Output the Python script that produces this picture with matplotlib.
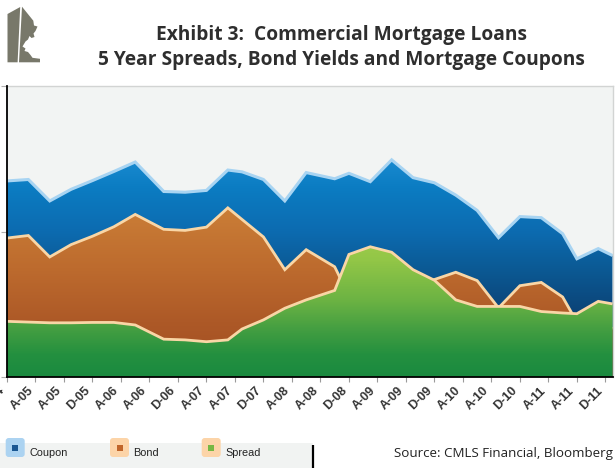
import numpy as np
import matplotlib
matplotlib.use("Agg")
import matplotlib.pyplot as plt
from matplotlib.colors import LinearSegmentedColormap
from matplotlib.patches import Polygon, FancyBboxPatch, Rectangle

# Months elapsed since Dec-2004 for each observation
months = [0, 3, 6, 9, 12, 15, 18, 22, 25, 28, 31, 33, 36, 39, 42, 46, 48,
          51, 54, 57, 60, 63, 66, 69, 72, 75, 78, 80, 83, 85]

# 5-year commercial mortgage coupon (%)
coupon = [5.39, 5.43, 4.84, 5.16, 5.40, 5.65, 5.91, 5.10, 5.08, 5.13, 5.69,
          5.64, 5.43, 4.84, 5.62, 5.45, 5.60, 5.37, 5.97, 5.48, 5.34, 5.00,
          4.58, 3.83, 4.41, 4.38, 3.94, 3.25, 3.53, 3.34]

# 5-year Government of Canada bond yield (%)
bond = [3.82, 3.89, 3.30, 3.64, 3.87, 4.13, 4.47, 4.06, 4.03, 4.12, 4.65,
        4.33, 3.85, 2.95, 3.50, 3.03, 2.23, 1.79, 2.54, 2.53, 2.68, 2.88,
        2.65, 1.90, 2.51, 2.60, 2.20, 1.51, 1.45, 1.33]

# Spread over bonds (%)
spread = [1.53, 1.51, 1.49, 1.49, 1.50, 1.50, 1.43, 1.04, 1.02, 0.97, 1.02,
          1.32, 1.57, 1.89, 2.12, 2.38, 3.37, 3.58, 3.43, 2.95, 2.66, 2.12,
          1.94, 1.94, 1.94, 1.80, 1.76, 1.74, 2.08, 2.01]

tick_months = list(range(0, 85, 4))
tick_labels = ["D-04", "A-05", "A-05", "D-05", "A-06", "A-06", "D-06", "A-07",
               "A-07", "D-07", "A-08", "A-08", "D-08", "A-09", "A-09", "D-09",
               "A-10", "A-10", "D-10", "A-11", "A-11", "D-11"]

legend_names = ["Coupon", "Bond", "Spread"]

W, H = 615, 468
XMAX, YMAX = 85, 8

fig = plt.figure(figsize=(W / 100, H / 100), dpi=100)
fig.patch.set_facecolor("white")

ax = fig.add_axes([7 / W, (H - 377) / H, 605.5 / W, 291 / H])
ax.set_facecolor("#f2f4f3")


def gradient_area(ax, x, y, stops, edge, lw, z):
    """Area from 0 up to y, filled with a vertical gradient and outlined on top."""
    poly = ax.fill_between(x, 0, y, color="none", lw=0, zorder=z)
    pos = [v / YMAX for v, _ in stops]
    cmap = LinearSegmentedColormap.from_list("g", list(zip(pos, [c for _, c in stops])))
    grad = np.linspace(0, 1, 400).reshape(-1, 1)
    im = ax.imshow(grad, extent=[0, XMAX, 0, YMAX], origin="lower",
                   aspect="auto", cmap=cmap, zorder=z, interpolation="bilinear")
    im.set_clip_path(poly.get_paths()[0], transform=ax.transData)
    ax.plot(x, y, color=edge, lw=lw, zorder=z + 0.5, solid_joinstyle="miter",
            solid_capstyle="butt")


coupon_stops = [(0, "#0a3864"), (1.8, "#0c4478"), (3.0, "#0b5a95"),
                (4.0, "#0d6bb0"), (5.2, "#0b7cc2"), (6.2, "#1c8ed4"), (8, "#2a9ae0")]
bond_stops = [(0, "#a04c22"), (1.5, "#ad5927"), (3.0, "#bd6b2e"),
              (4.5, "#c97c36"), (8, "#d08a40")]
spread_stops = [(0, "#1a8a40"), (0.6, "#24903f"), (1.2, "#3f9c41"),
                (2.1, "#6cb343"), (3.2, "#92c647"), (3.8, "#9ecc4a"), (8, "#a8d050")]

gradient_area(ax, months, coupon, coupon_stops, "#a8d4f2", 2.2, 2)
gradient_area(ax, months, bond, bond_stops, "#f9d6a6", 2.0, 4)
gradient_area(ax, months, spread, spread_stops, "#f9d6a6", 2.0, 6)

ax.set_xlim(0, XMAX)
ax.set_ylim(0, YMAX)

ax.set_xticks(tick_months)
ax.set_xticklabels(tick_labels, rotation=45, ha="right", va="top",
                   fontsize=9, fontweight="bold", color="#333333",
                   family="Liberation Sans")
ax.tick_params(axis="x", length=3.5, width=0.8, color="#9a9a9a", pad=2)
ax.set_yticks([0, 4, 8])
ax.set_yticklabels([])
ax.tick_params(axis="y", length=4, width=0.8, color="#b0b0b0")

for side in ("left", "bottom"):
    ax.spines[side].set_color("black")
    ax.spines[side].set_linewidth(1.3)
    ax.spines[side].set_zorder(10)
for side in ("top", "right"):
    ax.spines[side].set_color("#d2d4d3")
    ax.spines[side].set_linewidth(1.0)

# Overlay in pixel coordinates for header, logo, legend and source
ov = fig.add_axes([0, 0, 1, 1], zorder=20)
ov.set_xlim(0, W)
ov.set_ylim(H, 0)
ov.axis("off")
ov.patch.set_alpha(0)

# Logo
logo_col = "#78786a"
ov.add_patch(Polygon([(7.5, 14.0), (20.2, 7.0), (17.6, 62.3), (7.5, 62.3)],
                     closed=True, fc=logo_col, ec="none"))
ov.add_patch(Polygon([(22.0, 6.7), (33.3, 20.7), (34.0, 25.5), (37.5, 26.5),
                      (35.5, 31.0), (33.5, 33.5), (34.5, 37.0), (31.5, 38.0),
                      (29.5, 36.0), (28.0, 39.5), (25.5, 41.5), (22.5, 46.5),
                      (25.5, 48.5), (24.5, 51.0), (28.0, 52.0), (30.5, 55.0),
                      (32.5, 57.8), (40.0, 58.8), (40.0, 62.3), (19.0, 62.3)],
                     closed=True, fc=logo_col, ec="none"))

title_kw = dict(family=["Open Sans", "DejaVu Sans"], fontweight="bold",
                color="#2e2e2e", ha="center", va="baseline", fontsize=13.8)
ov.text(342, 40, "Exhibit 3:  Commercial Mortgage Loans", **title_kw)
ov.text(341, 65.5, "5 Year Spreads, Bond Yields and Mortgage Coupons", **title_kw)

# Legend strip
ov.add_patch(Rectangle((0, 443), 313, 25, fc="#f1f3f2", ec="none"))
ov.plot([313, 313], [445, 468], color="black", lw=1.6, solid_capstyle="butt")

icon_bg = ["#acd3f1", "#fcd4a8", "#fcd4a8"]
icon_fg = ["#1a5792", "#c0652a", "#76b843"]
icon_x = [5.7, 110.0, 201.7]
label_x = [29.0, 133.5, 225.5]
for name, bg, fg, ix, lx in zip(legend_names, icon_bg, icon_fg, icon_x, label_x):
    ov.add_patch(FancyBboxPatch((ix + 1.5, 439.5), 16, 16,
                                boxstyle="round,pad=1.5,rounding_size=3",
                                fc=bg, ec="none"))
    ov.add_patch(Rectangle((ix + 6.5, 444.5), 6, 6, fc=fg, ec="none"))
    ov.text(lx, 453, name, family=["Liberation Sans", "DejaVu Sans"],
            fontsize=7.8, color="#222222", ha="left", va="center")

ov.text(613, 457, "Source: CMLS Financial, Bloomberg",
        family=["Open Sans", "DejaVu Sans"], fontsize=9.6, color="#222222",
        ha="right", va="baseline")

fig.savefig("out.png", dpi=100)
